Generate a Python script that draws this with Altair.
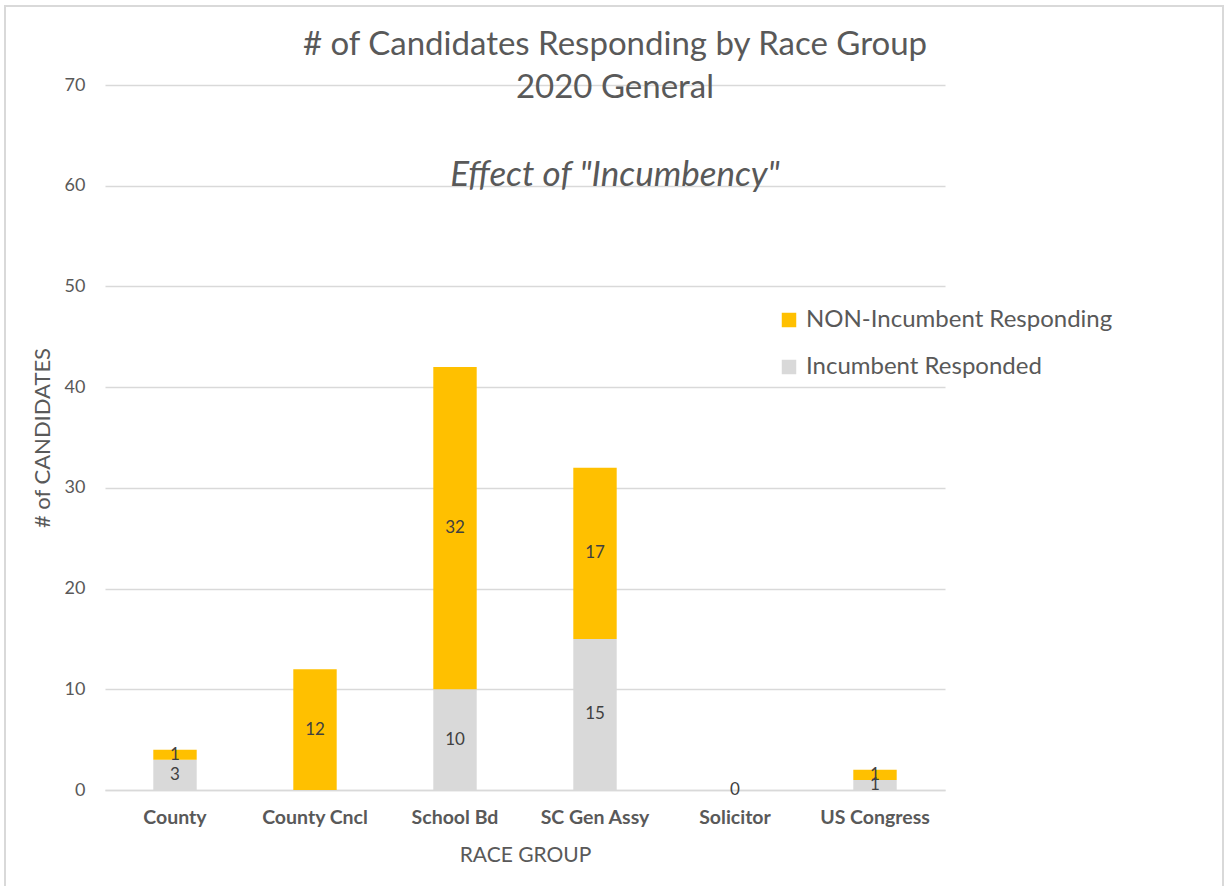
import altair as alt
import pandas as pd

# Candidates responding, split by incumbency, per race group
groups = ["County", "County Cncl", "School Bd", "SC Gen Assy", "Solicitor", "US Congress"]
incumbent = [3, None, 10, 15, 0, 1]
non_incumbent = [1, 12, 32, 17, None, 1]

series = ["NON-Incumbent Responding", "Incumbent Responded"]
colors = ["#FFC000", "#D9D9D9"]
y_ticks = [0, 10, 20, 30, 40, 50, 60, 70]

title_lines = ["# of Candidates Responding by Race Group", "2020 General"]
subtitle = 'Effect of "Incumbency"'

FONT = "Lato"
GREY_TEXT = "#595959"

rows = []
for g, inc, non in zip(groups, incumbent, non_incumbent):
    rows.append({"group": g, "series": series[1], "value": inc, "stack": 0})
    rows.append({"group": g, "series": series[0], "value": non, "stack": 1})
df = pd.DataFrame(rows)

W, H = 840, 705

base = (
    alt.Chart(df)
    .transform_filter("isValid(datum.value)")
    .transform_stack(
        stack="value",
        as_=["y0", "y1"],
        groupby=["group"],
        sort=[alt.SortField("stack", order="ascending")],
    )
    .transform_calculate(mid="(datum.y0 + datum.y1) / 2")
)

x_enc = alt.X(
    "group:N",
    sort=groups,
    scale=alt.Scale(paddingInner=0.69, paddingOuter=0.345),
    axis=alt.Axis(
        title="RACE GROUP",
        labelAngle=0,
        labelFontSize=19.5,
        labelFontWeight="bold",
        labelColor=GREY_TEXT,
        labelFont=FONT,
        labelPadding=18,
        ticks=False,
        domainColor="#D9D9D9",
        domainWidth=1.5,
        titleFont=FONT,
        titleFontSize=21,
        titleFontWeight="normal",
        titleColor=GREY_TEXT,
        titlePadding=18,
    ),
)

bars = base.mark_bar().encode(
    x=x_enc,
    y=alt.Y(
        "y0:Q",
        scale=alt.Scale(domain=[0, 70], nice=False),
        axis=alt.Axis(
            title="# of  CANDIDATES",
            values=y_ticks,
            labelFontSize=18,
            labelColor=GREY_TEXT,
            labelFont=FONT,
            labelPadding=20,
            ticks=False,
            domain=False,
            gridColor="#D9D9D9",
            gridWidth=1.5,
            titleFont=FONT,
            titleFontSize=22,
            titleFontWeight="normal",
            titleColor=GREY_TEXT,
            titlePadding=10,
        ),
    ),
    y2="y1:Q",
    color=alt.Color(
        "series:N",
        scale=alt.Scale(domain=series, range=colors),
        legend=alt.Legend(
            title=None,
            orient="none",
            legendX=672,
            legendY=223,
            symbolType="square",
            symbolSize=210,
            symbolStrokeWidth=0,
            labelFont=FONT,
            labelFontSize=24,
            labelColor=GREY_TEXT,
            labelLimit=400,
            rowPadding=23,
            labelOffset=5,
        ),
    ),
)

labels = base.mark_text(font=FONT, fontSize=17, color="#404040").encode(
    x=alt.X("group:N", sort=groups),
    y=alt.Y("mid:Q"),
    text=alt.Text("value:Q", format="d"),
)

# Title block, centred on the whole canvas
t1 = (
    alt.Chart(pd.DataFrame({"line": [title_lines[0]]}))
    .mark_text(font=FONT, fontSize=33, color=GREY_TEXT, baseline="middle")
    .encode(text="line:N", x=alt.value(510), y=alt.value(-40))
)
t2 = (
    alt.Chart(pd.DataFrame({"line": [title_lines[1]]}))
    .mark_text(font=FONT, fontSize=33, color=GREY_TEXT, baseline="middle")
    .encode(text="line:N", x=alt.value(510), y=alt.value(3))
)
t3 = (
    alt.Chart(pd.DataFrame({"line": [subtitle]}))
    .mark_text(font=FONT, fontSize=35, fontStyle="italic", color=GREY_TEXT, baseline="middle")
    .encode(text="line:N", x=alt.value(510), y=alt.value(90))
)

# Outer border around the chart area
frame = (
    alt.Chart(pd.DataFrame({"f": [0]}))
    .mark_rect(fill="transparent", stroke="#D9D9D9", strokeWidth=2)
    .encode(x=alt.value(-100), x2=alt.value(1118), y=alt.value(-79), y2=alt.value(820))
)

chart = (
    alt.layer(frame, bars, labels, t1, t2, t3)
    .properties(
        width=W,
        height=H,
        autosize=alt.AutoSizeParams(type="none"),
        padding={"left": 105, "top": 85, "right": 280, "bottom": 96},
        background="white",
    )
    .configure_view(stroke=None)
)

chart.save("out.html", embed_options={"renderer": "svg", "actions": False})
